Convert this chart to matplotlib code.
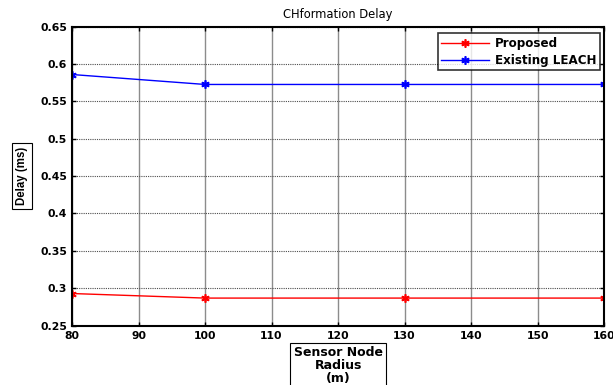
import matplotlib
matplotlib.use("Agg")
import matplotlib.pyplot as plt

plt.rcParams['font.family'] = ['DejaVu Sans']

# data
radius = [80, 100, 130, 160]
proposed = [0.2928, 0.2867, 0.2867, 0.2867]
existing_leach = [0.5858, 0.5725, 0.5725, 0.5725]
x_ticks = [80, 90, 100, 110, 120, 130, 140, 150, 160]
y_ticks = [0.25, 0.3, 0.35, 0.4, 0.45, 0.5, 0.55, 0.6, 0.65]

fig = plt.figure(figsize=(6.13, 3.85), dpi=100)
ax = fig.add_axes([0.1175, 0.1545, 0.868, 0.7766])

asterisk = (6, 2, 0)
ax.plot(radius, proposed, color='red', marker=asterisk, markersize=6,
        markeredgewidth=1.2, linewidth=1, label='Proposed')
ax.plot(radius, existing_leach, color='blue', marker=asterisk, markersize=6,
        markeredgewidth=1.2, linewidth=1, label='Existing LEACH')

ax.set_xlim(80, 160)
ax.set_ylim(0.25, 0.65)
ax.set_xticks(x_ticks)
ax.set_yticks(y_ticks)
ax.set_xticklabels(['%g' % v for v in x_ticks], fontweight='bold', fontsize=7.8)
ax.set_yticklabels(['%g' % v for v in y_ticks], fontweight='bold', fontsize=7.8)
ax.tick_params(direction='in', top=True, right=True, length=3, width=1)
ax.tick_params(axis='x', pad=4.3)
ax.tick_params(axis='y', pad=3.6)

# vertical grid lines look solid grey, horizontal ones dotted
ax.xaxis.grid(True, color='0.55', linestyle='-', linewidth=1.0)
ax.yaxis.grid(True, color='0.3', linestyle=(0, (1, 1)), linewidth=0.8)
for s in ax.spines.values():
    s.set_linewidth(1.5)

ax.set_title('CHformation Delay', fontsize=8.3, pad=6)

ax.set_ylabel('Delay (ms)', fontsize=8.3, fontweight='bold', family='Liberation Sans',
              bbox=dict(boxstyle='square,pad=0.35', facecolor='white',
                        edgecolor='black', linewidth=0.8))
ax.yaxis.set_label_coords(-0.083, 0.5)
ax.set_xlabel('Sensor Node\nRadius\n(m)', fontsize=9, fontweight='bold',
              bbox=dict(boxstyle='square,pad=0.25', facecolor='white',
                        edgecolor='black', linewidth=0.8),
              linespacing=1.0)
ax.xaxis.set_label_coords(0.5, -0.068)

leg = ax.legend(loc='upper right', bbox_to_anchor=(0.9925, 0.978), fancybox=False,
                edgecolor='black', prop={'weight': 'bold', 'size': 8.6},
                handlelength=4, borderpad=0.3, labelspacing=0.35,
                borderaxespad=0, handletextpad=0.5)
leg.get_frame().set_linewidth(1.2)

fig.savefig('out.png', dpi=100)
